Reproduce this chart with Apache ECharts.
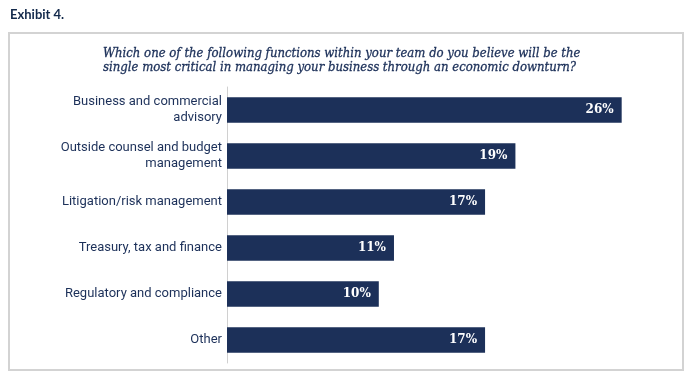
<!DOCTYPE html>
<html>
<head>
<meta charset="utf-8">
<script src="https://cdn.jsdelivr.net/npm/echarts@6/dist/echarts.min.js"></script>
<style>
html,body{margin:0;padding:0;background:#fff;}
#chart{width:700px;height:379px;}
</style>
</head>
<body>
<div id="chart"></div>
<script>
var exhibitTitle = 'Exhibit 4.';
var question = 'Which one of the following functions within your team do you believe will be the\nsingle most critical in managing your business through an economic downturn?';
var categories = [
  'Business and commercial\nadvisory',
  'Outside counsel and budget\nmanagement',
  'Litigation/risk management',
  'Treasury, tax and finance',
  'Regulatory and compliance',
  'Other'
];
var values = [26, 19, 17, 11, 10, 17];

var navy = '#1c3059';
var chart = echarts.init(document.getElementById('chart'), null, {renderer: 'canvas'});
chart.setOption({
  backgroundColor: '#fff',
  animation: false,
  graphic: [
    {type: 'rect', shape: {x: 9, y: 33, width: 674, height: 337}, style: {fill: '#fff', stroke: '#d3d3d3', lineWidth: 2}, z: -10}
  ],
  title: [
    {text: exhibitTitle, left: 10, top: 8, padding: 0, textStyle: {fontFamily: 'Lato', fontWeight: 'bold', fontSize: 13, color: '#13294b'}},
    {text: question, left: 103, top: 47, padding: 0, textStyle: {fontFamily: 'DejaVu Serif Condensed', fontStyle: 'italic', fontWeight: 'normal', fontSize: 13, lineHeight: 13.5, color: navy, textBorderColor: navy, textBorderWidth: 0.3}}
  ],
  grid: {left: 227, top: 87, width: 455.4, height: 276},
  xAxis: {
    type: 'value', min: 0, max: 30, show: false
  },
  yAxis: {
    type: 'category', inverse: true, data: categories,
    axisLine: {show: true, lineStyle: {color: '#d0d0d0', width: 1}},
    axisTick: {show: false},
    axisLabel: {fontFamily: 'Roboto', fontSize: 13, lineHeight: 16, color: navy, margin: 5, align: 'right'}
  },
  series: [{
    type: 'bar', data: values, barWidth: 25.5,
    itemStyle: {color: navy},
    label: {show: true, position: 'insideRight', distance: 8, formatter: '{c}%', fontFamily: 'DejaVu Serif', fontWeight: 'bold', fontSize: 12, color: '#fff'}
  }]
});
</script>
</body>
</html>
